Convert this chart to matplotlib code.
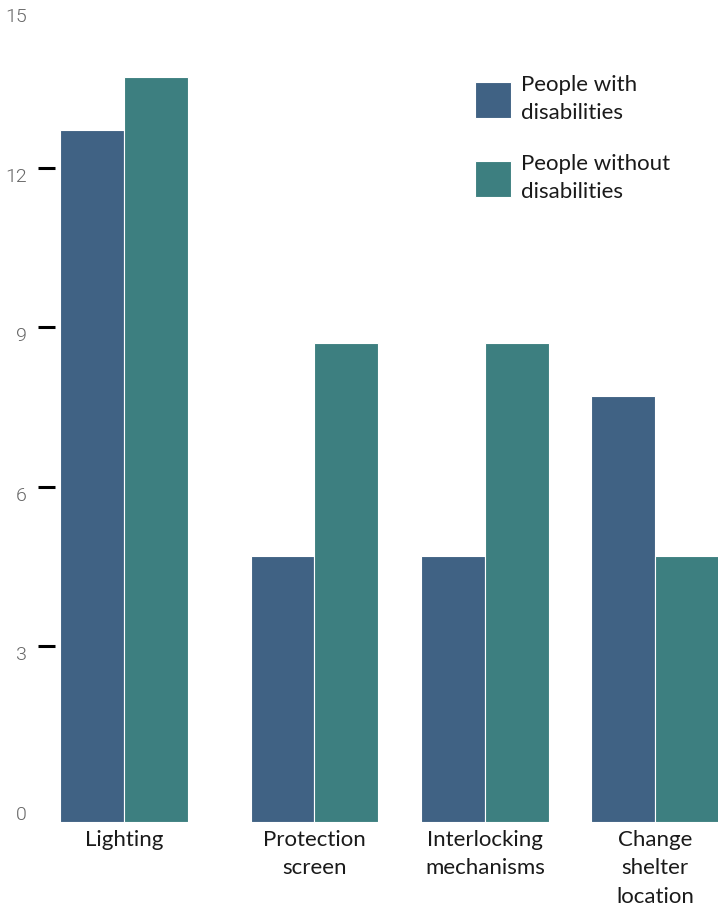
import numpy as np
import matplotlib
matplotlib.use('Agg')
import matplotlib.pyplot as plt

plt.rcParams['font.family'] = ['Lato', 'DejaVu Sans']

# data
categories = ['Lighting', 'Protection\nscreen', 'Interlocking\nmechanisms', 'Change\nshelter\nlocation']
with_dis = [13, 5, 5, 8]
without_dis = [14, 9, 9, 5]
series_names = ['People with\ndisabilities', 'People without\ndisabilities']
yticks = [0, 3, 6, 9, 12, 15]

c_with = '#406284'
c_without = '#3d7f80'

fig = plt.figure(figsize=(7.18, 9.06), dpi=100)
ax = fig.add_axes([55 / 718, 84 / 906, (718 - 55) / 718, 822 / 906])

x = np.array([0, 1.12, 2.125, 3.125])
w = 0.376
ax.bar(x - w / 2, with_dis, w, color=c_with, edgecolor='white', linewidth=0.8,
       label=series_names[0])
ax.bar(x + w / 2, without_dis, w, color=c_without, edgecolor='white', linewidth=0.8,
       label=series_names[1])

ax.set_xlim(-0.406, 3.494)
ax.set_ylim(0, 15.45)

# axis in the original sits slightly above the bar baseline
shift = 0.3
ax.set_yticks([t + shift for t in yticks])
ax.set_yticklabels([str(t) for t in yticks], family=['Roboto', 'DejaVu Sans'],
                   fontsize=14, color='#666666', fontweight=300)
for lab in ax.get_yticklabels():
    lab.set_verticalalignment('top')
ax.tick_params(axis='y', length=12.5, width=2.2, color='black', pad=8, direction='out')
ticks = ax.yaxis.get_major_ticks()
ticks[0].tick1line.set_visible(False)
ticks[-1].tick1line.set_visible(False)

ax.set_xticks(x)
ax.set_xticklabels(categories, fontsize=16, color='#1a1a1a', linespacing=1.55)
ax.tick_params(axis='x', length=0, pad=5.5)

for s in ax.spines.values():
    s.set_visible(False)

leg = ax.legend(loc='upper left', bbox_to_anchor=(475 / 718, 1 - 75 / 906),
                bbox_transform=fig.transFigure, frameon=False, fontsize=16,
                handlelength=1.6, handleheight=2.1, handletextpad=0.45,
                labelspacing=1.4, borderpad=0, borderaxespad=0)
for t in leg.get_texts():
    t.set_linespacing(1.5)
    t.set_color('#1a1a1a')

fig.savefig('out.png', dpi=100)
